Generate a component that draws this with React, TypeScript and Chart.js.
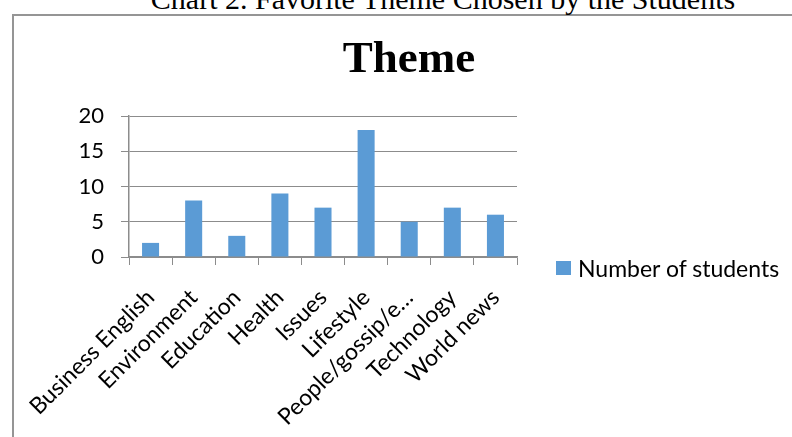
import React, { useEffect, useRef } from "react";
import { Chart, registerables } from "chart.js";

Chart.register(...registerables);

const categories = [
  "Business English",
  "Environment",
  "Education",
  "Health",
  "Issues",
  "Lifestyle",
  "People/gossip/e…",
  "Technology",
  "World news",
];
const students = [2, 8, 3, 9, 7, 18, 5, 7, 6];
const seriesName = "Number of students";
const chartTitle = "Theme";
const pageCaption = "Chart 2. Favorite Theme Chosen by the Students";
const yMin = 0;
const yMax = 20;
const yStep = 5;

const BAR_COLOR = "#5B9BD5";
const LINE_COLOR = "#8c8c8c";
const SANS = "Lato, 'Open Sans', sans-serif";
const SERIF = "'Liberation Serif', 'Times New Roman', serif";

export default function App() {
  const canvasRef = useRef<HTMLCanvasElement | null>(null);

  useEffect(() => {
    if (!canvasRef.current) return;
    const chart = new Chart(canvasRef.current, {
      type: "bar",
      data: {
        labels: categories,
        datasets: [
          {
            label: seriesName,
            data: students,
            backgroundColor: BAR_COLOR,
            borderWidth: 0,
            categoryPercentage: 1,
            barPercentage: 0.395,
          },
        ],
      },
      options: {
        responsive: false,
        animation: false,
        devicePixelRatio: 1,
        layout: { padding: { left: 0, right: 275, top: 116, bottom: 0 } },
        plugins: {
          legend: { display: false },
          title: { display: false },
          tooltip: { enabled: false },
        },
        scales: {
          x: {
            afterFit: (scale: any) => {
              scale.height = 180;
            },
            grid: {
              offset: true,
              drawOnChartArea: false,
              drawTicks: true,
              tickLength: 8,
              color: LINE_COLOR,
              lineWidth: 1,
            },
            border: { color: LINE_COLOR, width: 1.5 },
            ticks: {
              minRotation: 45,
              maxRotation: 45,
              autoSkip: false,
              padding: 19,
              color: "#000",
              font: { family: SANS, size: 23 },
            },
          },
          y: {
            min: yMin,
            max: yMax,
            afterFit: (scale: any) => {
              scale.width = 129;
            },
            grid: {
              color: LINE_COLOR,
              lineWidth: 1,
              tickLength: 8,
            },
            border: { color: LINE_COLOR, width: 1.5 },
            ticks: {
              stepSize: yStep,
              padding: 17,
              color: "#000",
              font: { family: SANS, size: 22 },
            },
          },
        },
      },
    });
    return () => chart.destroy();
  }, []);

  return (
    <div
      style={{
        position: "fixed",
        left: 0,
        top: 0,
        width: 792,
        height: 437,
        overflow: "hidden",
        background: "#fff",
      }}
    >
      <div
        style={{
          position: "absolute",
          left: 12,
          top: 14,
          width: 820,
          height: 460,
          border: "2px solid #959595",
          boxSizing: "border-box",
        }}
      />
      <div
        style={{
          position: "absolute",
          left: 443 - 400,
          width: 800,
          top: -16.5,
          height: 30,
          lineHeight: "30px",
          textAlign: "center",
          fontFamily: SERIF,
          fontSize: 30,
          color: "#000",
          whiteSpace: "nowrap",
        }}
      >
        {pageCaption}
      </div>
      <canvas
        ref={canvasRef}
        width={792}
        height={437}
        style={{ position: "absolute", left: 0, top: 0, width: 792, height: 437 }}
      />
      <div
        style={{
          position: "absolute",
          left: 409 - 200,
          width: 400,
          top: 32,
          height: 50,
          lineHeight: "50px",
          textAlign: "center",
          fontFamily: SERIF,
          fontWeight: "bold",
          fontSize: 45,
          color: "#000",
        }}
      >
        {chartTitle}
      </div>
      <div
        style={{
          position: "absolute",
          left: 556,
          top: 254,
          height: 28,
          display: "flex",
          alignItems: "center",
          whiteSpace: "nowrap",
        }}
      >
        <span
          style={{
            display: "inline-block",
            width: 15,
            height: 14,
            background: BAR_COLOR,
            marginRight: 7,
          }}
        />
        <span style={{ fontFamily: SANS, fontSize: 23, color: "#000", lineHeight: "28px" }}>
          {seriesName}
        </span>
      </div>
    </div>
  );
}
